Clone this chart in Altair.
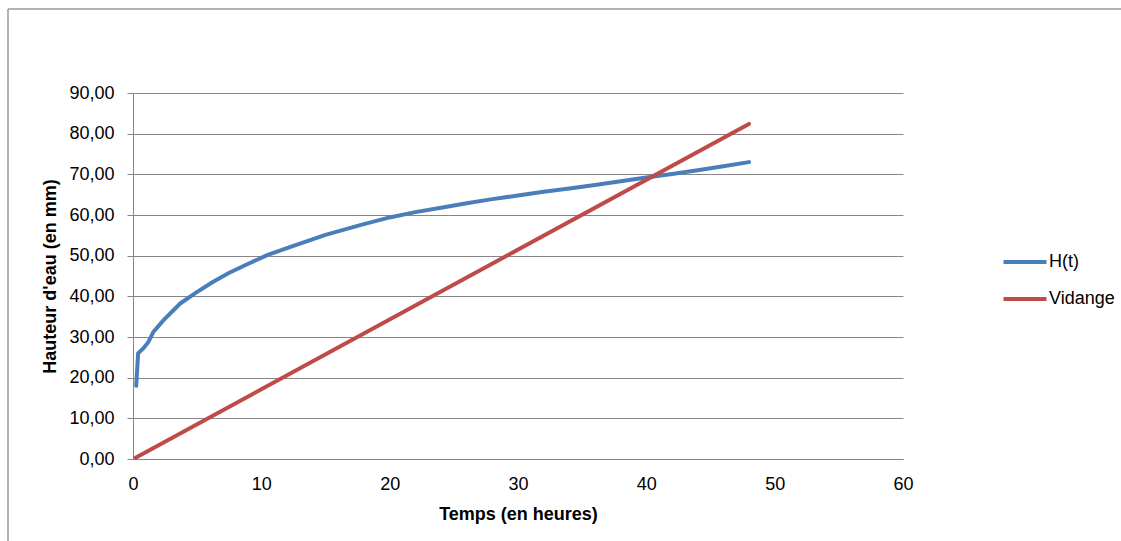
import altair as alt
import pandas as pd

# H(t) series
t_h = [0.25, 0.4, 0.8, 1.2, 1.6, 2.4, 3.7, 5.0, 6.25, 7.5, 8.9, 10.5, 12.5, 15.0, 17.7,
       20.0, 22.0, 24.0, 26.0, 28.0, 30.0, 32.0, 34.0, 36.0, 38.0, 40.0, 42.0, 44.0, 46.0, 48.0]
h_vals = [18.0, 26.0, 27.2, 28.8, 31.3, 34.2, 38.3, 41.1, 43.6, 45.8, 47.9, 50.2, 52.4, 55.1,
          57.5, 59.4, 60.7, 61.8, 62.9, 63.9, 64.8, 65.7, 66.5, 67.4, 68.3, 69.2, 70.1, 71.0,
          72.0, 73.0]
# Vidange series (straight line)
t_v = [0.2, 48]
v_vals = [0.3, 82.4]

series_names = ["H(t)", "Vidange"]
series_colors = ["#4A7EBB", "#BE4B48"]

df = pd.concat([
    pd.DataFrame({"t": t_h, "v": h_vals, "s": series_names[0]}),
    pd.DataFrame({"t": t_v, "v": v_vals, "s": series_names[1]}),
])

FONT = "Liberation Sans"
GRID = "#868686"

lines = alt.Chart(df).mark_line(strokeWidth=4, strokeCap="round", strokeJoin="round").encode(
    x=alt.X("t:Q", scale=alt.Scale(domain=[0, 60], nice=False),
            axis=alt.Axis(title="Temps (en heures)", values=[0, 10, 20, 30, 40, 50, 60],
                          grid=False, domainColor=GRID, ticks=False, labelFlush=False,
                          labelFontSize=18, labelColor="#000", labelFont=FONT, labelPadding=16,
                          titleFont=FONT, titleFontSize=18, titleFontWeight="bold",
                          titleColor="#000", titlePadding=12)),
    y=alt.Y("v:Q", scale=alt.Scale(domain=[0, 90], nice=False),
            axis=alt.Axis(title="Hauteur d'eau (en mm)", values=list(range(0, 100, 10)),
                          labelExpr="replace(format(datum.value, '.2f'), '.', ',')",
                          gridColor=GRID, gridWidth=1, domainColor=GRID,
                          tickColor=GRID, tickSize=6,
                          labelFontSize=18, labelColor="#000", labelFont=FONT, labelPadding=13,
                          titleFont=FONT, titleFontSize=18, titleFontWeight="bold",
                          titleColor="#000", titlePadding=9)),
    color=alt.Color("s:N", scale=alt.Scale(domain=series_names, range=series_colors),
                    legend=alt.Legend(title=None, orient="none", legendX=868, legendY=145,
                                      symbolType="stroke", symbolSize=1850, symbolStrokeWidth=4,
                                      labelFontSize=18, labelFont=FONT, labelColor="#000",
                                      rowPadding=4, labelOffset=0)),
)

one = pd.DataFrame({"a": [0]})
frame_v = alt.Chart(one).mark_rule(color="#9a9a9a", strokeWidth=1.5).encode(
    x=alt.value(-125), y=alt.value(-84), y2=alt.value(500))
frame_h = alt.Chart(one).mark_rule(color="#9a9a9a", strokeWidth=1.5).encode(
    x=alt.value(-125), x2=alt.value(1000), y=alt.value(-84))

chart = alt.layer(frame_v, frame_h, lines).properties(
    width=770, height=366,
    autosize=alt.AutoSizeParams(type="none"),
    padding={"left": 133, "top": 93, "right": 218, "bottom": 82},
    background="white",
).configure_view(stroke=None)

chart.save("out.html", embed_options={"renderer": "svg", "actions": False})
